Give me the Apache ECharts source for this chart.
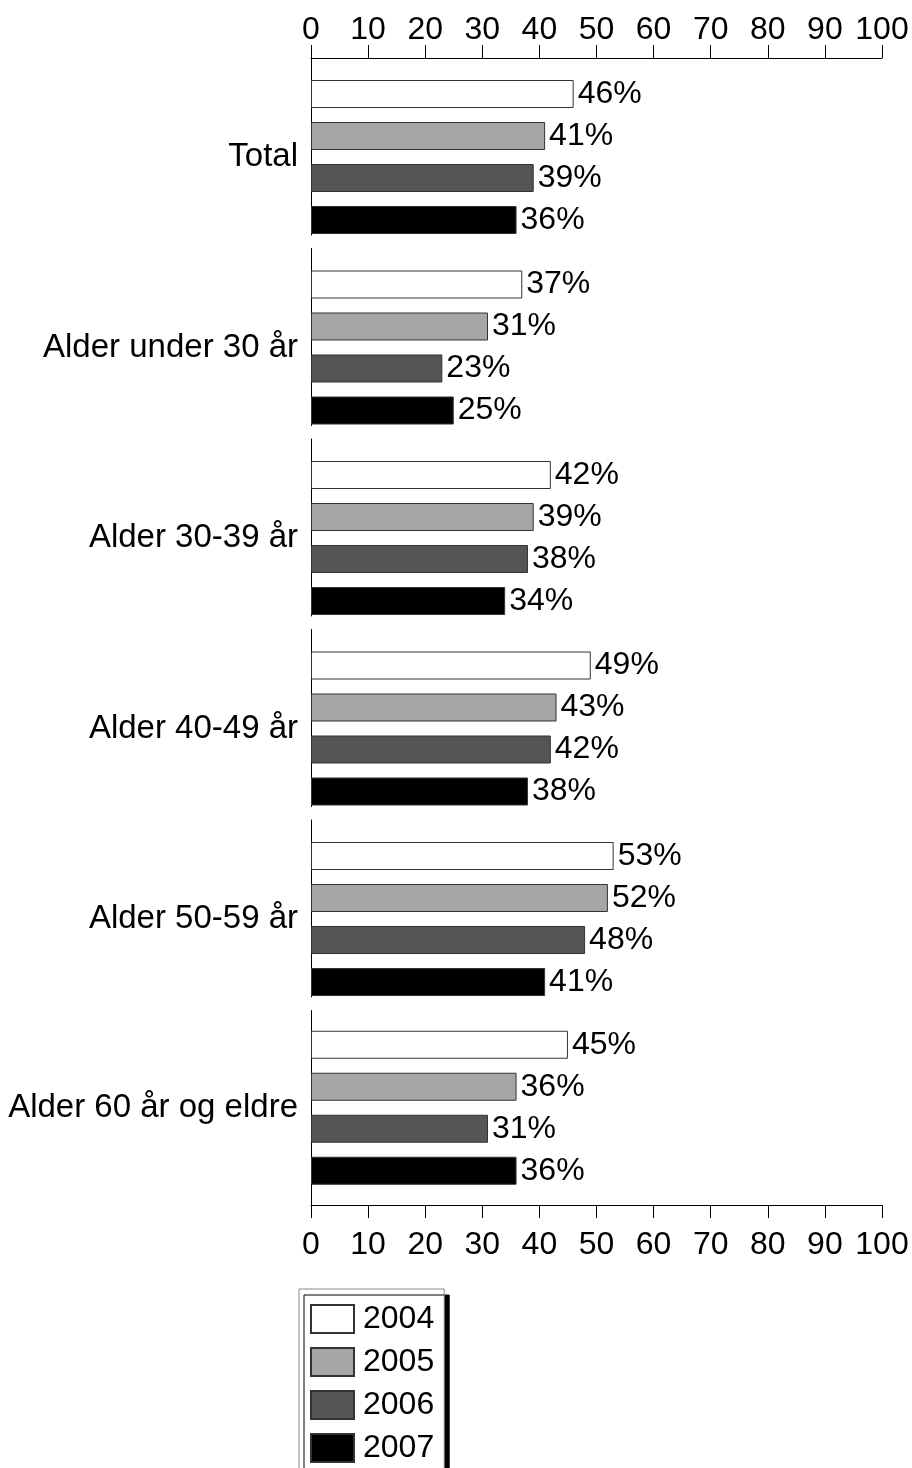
<!DOCTYPE html>
<html>
<head>
<meta charset="utf-8">
<script src="https://cdn.jsdelivr.net/npm/echarts@6/dist/echarts.min.js"></script>
<style>
  html, body { margin: 0; padding: 0; background: #fff; }
  #chart { width: 912px; height: 1468px; }
</style>
</head>
<body>
<div id="chart"></div>
<script>
// grupper (fra topp)
var groups = ['Total', 'Alder under 30 år', 'Alder 30-39 år', 'Alder 40-49 år', 'Alder 50-59 år', 'Alder 60 år og eldre'];
var years = ['2004', '2005', '2006', '2007'];
var y2004 = [46, 37, 42, 49, 53, 45];
var y2005 = [41, 31, 39, 43, 52, 36];
var y2006 = [39, 23, 38, 42, 48, 31];
var y2007 = [36, 25, 34, 38, 41, 36];
var xTicks = [0, 10, 20, 30, 40, 50, 60, 70, 80, 90, 100];

var values = [y2004, y2005, y2006, y2007];
var fills = ['#ffffff', '#a6a6a6', '#555555', '#000000'];
var font = 'Liberation Sans, Arial, sans-serif';
var fs = 32;

var chart = echarts.init(document.getElementById('chart'), null, { renderer: 'canvas' });

var grids = [], xAxes = [], yAxes = [], series = [];
var pitch = 190.5;
for (var g = 0; g < groups.length; g++) {
    var last = g === groups.length - 1;
    grids.push({
        left: 311, right: 30,
        top: 58 + pitch * g,
        height: last ? 194.5 : 177
    });
    var xa = {
        gridIndex: g, type: 'value',
        min: xTicks[0], max: xTicks[xTicks.length - 1], interval: xTicks[1] - xTicks[0],
        splitLine: { show: false },
        axisLine: { show: true, lineStyle: { color: '#000', width: 1 } },
        axisTick: { show: true, length: 13, lineStyle: { color: '#000' } },
        axisLabel: { fontSize: fs, color: '#000', fontFamily: font }
    };
    if (g === 0) {
        xa.position = 'top';
        xa.axisLabel.margin = 12;
    } else if (last) {
        xa.position = 'bottom';
        xa.axisLabel.margin = 24;
    } else {
        xa.show = false;
    }
    xAxes.push(xa);
    var lab = { fontSize: 33, color: '#000', fontFamily: font, margin: 13 };
    if (!last) {
        // flytt teksten ned til midten av søylene
        lab.verticalAlign = 'top';
        lab.lineHeight = 21;
    }
    yAxes.push({
        gridIndex: g, type: 'category', data: [groups[g]],
        axisLine: { show: true, lineStyle: { color: '#000', width: 1 } },
        axisTick: { show: false },
        axisLabel: lab
    });
    // tom plassholder så søylene havner nederst i segmentet
    if (!last) {
        series.push({
            name: '_pad', type: 'bar', xAxisIndex: g, yAxisIndex: g,
            barWidth: 14, barGap: '50%', silent: true,
            data: [null]
        });
    }
    for (var s = 0; s < years.length; s++) {
        series.push({
            name: years[s], type: 'bar', xAxisIndex: g, yAxisIndex: g,
            barWidth: 28, barGap: '50%',
            itemStyle: { color: fills[s], borderColor: '#333', borderWidth: 1 },
            label: {
                show: true, position: 'right', distance: 4,
                formatter: '{c}%', fontSize: fs, color: '#000', fontFamily: font
            },
            data: [values[s][g]]
        });
    }
}

chart.setOption({
    animation: false,
    backgroundColor: '#fff',
    textStyle: { fontFamily: font },
    legend: {
        data: years,
        orient: 'vertical',
        left: 299, top: 1289, height: 220,
        padding: [14, 10, 12, 11],
        itemGap: 11,
        itemWidth: 43, itemHeight: 28,
        icon: 'rect',
        backgroundColor: '#fff',
        borderColor: '#888', borderWidth: 1,
        shadowColor: '#000', shadowBlur: 0, shadowOffsetX: 5, shadowOffsetY: 6,
        selectedMode: false,
        textStyle: { fontSize: fs, color: '#000', fontFamily: font, padding: [0, 0, 0, 4] }
    },
    grid: grids,
    xAxis: xAxes,
    yAxis: yAxes,
    series: series
});
</script>
</body>
</html>
